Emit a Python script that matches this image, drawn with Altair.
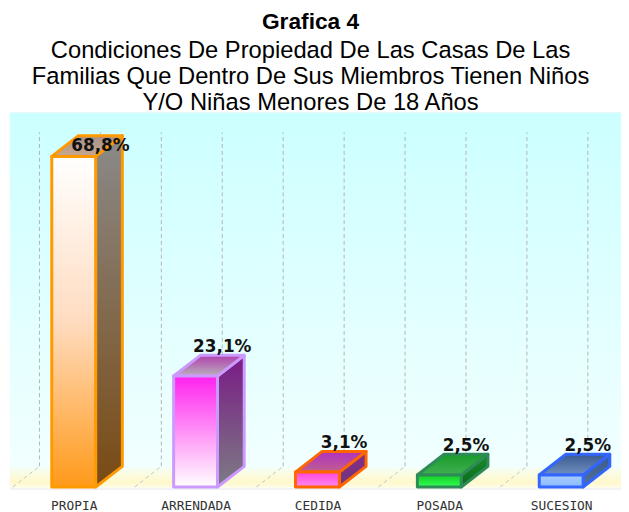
import json
import altair as alt
import pandas as pd

# ---------------- data ----------------
categories = ["PROPIA", "ARRENDADA", "CEDIDA", "POSADA", "SUCESION"]
values = [68.8, 23.1, 3.1, 2.5, 2.5]
value_labels = ["68,8%", "23,1%", "3,1%", "2,5%", "2,5%"]

title_text = "Grafica 4"
subtitle_lines = [
    "Condiciones De Propiedad De Las Casas De Las",
    "Familias Que Dentro De Sus Miembros Tienen Niños",
    "Y/O Niñas Menores De 18 Años",
]

# ---------------- styles ----------------
W, H = 618, 380
X_DOMAIN = [-0.523, 4.491]
Y_DOMAIN = [-0.3, 77.9]
HW = 0.18      # half width of the front face (x units)
DX = 0.219     # depth offset (x units)
DY = 4.3       # depth offset (y units)
GRID_TOP = 73.8
LABEL_OFF = 5.0
LABEL_CAP = 70.0

styles = {
    "PROPIA": dict(stroke="#ff9900",
                   front=[("#ffffff", 0), ("#ffdcc0", 0.5), ("#ff9a1a", 1)],
                   side=[("#8a8a8a", 0), ("#7a4a12", 1)],
                   top=[("#a89088", 0), ("#c8a890", 1)]),
    "ARRENDADA": dict(stroke="#cc99ff",
                      front=[("#ff22ee", 0), ("#ffffff", 1)],
                      side=[("#7a1a86", 0), ("#7c7c84", 1)],
                      top=[("#b040b0", 0), ("#b8b0b8", 1)]),
    "CEDIDA": dict(stroke="#ff6600",
                   front=[("#ff44dd", 0), ("#ff88ee", 1)],
                   side=[("#8a2a8a", 0), ("#6a3a7a", 1)],
                   top=[("#b030c0", 0), ("#c06090", 1)]),
    "POSADA": dict(stroke="#2e8b57",
                   front=[("#11cc22", 0), ("#33ff55", 1)],
                   side=[("#1a8a2a", 0), ("#0a6a1a", 1)],
                   top=[("#1a9a2a", 0), ("#40b050", 1)]),
    "SUCESION": dict(stroke="#3366ff",
                     front=[("#aaccff", 0), ("#88bbff", 1)],
                     side=[("#3a5a8a", 0), ("#5070a0", 1)],
                     top=[("#3a5a90", 0), ("#7090c0", 1)]),
}


def grad(stops):
    return alt.LinearGradient(
        gradient="linear",
        stops=[alt.GradientStop(color=c, offset=o) for c, o in stops],
        x1=0, x2=0, y1=0, y2=1,
    )


df = pd.DataFrame({
    "cat": categories,
    "idx": list(range(len(categories))),
    "val": values,
    "lab": value_labels,
})

label_expr = json.dumps(categories) + "[datum.value]"
x_scale = alt.Scale(domain=X_DOMAIN, nice=False, zero=False)
y_scale = alt.Scale(domain=Y_DOMAIN, nice=False, zero=False)
x_axis = alt.Axis(values=list(range(len(categories))), labelExpr=label_expr,
                  ticks=False, domain=False, grid=False, title=None,
                  labelFont="DejaVu Sans Mono", labelFontSize=13,
                  labelColor="#333333", labelPadding=11)


def X(f):
    return alt.X(f, type="quantitative", scale=x_scale, axis=x_axis)


def Y(f):
    return alt.Y(f, type="quantitative", scale=y_scale, axis=None)


one = pd.DataFrame({"a": [0]})

bg = alt.Chart(one).mark_rect(
    fill=grad([("#ccffff", 0), ("#f4ffff", 1)])
).encode(x=alt.value(0), x2=alt.value(W), y=alt.value(0), y2=alt.value(H))

floor = alt.Chart(one).mark_rect(
    fill=grad([("#f6fff4", 0), ("#fff8cc", 0.7), ("#fffbe0", 1)])
).encode(x=alt.value(0), x2=alt.value(W), y=alt.value(H - 21), y2=alt.value(H - 1))

grid_base = alt.Chart(alt.sequence(0, 10, as_="k")).transform_calculate(
    f="-0.5 + 0.5 * datum.k",
    xb=f"-0.5 + 0.5 * datum.k + {DX}",
    y0="0",
    yb=str(DY),
    yt=str(GRID_TOP),
)
grid_v = grid_base.mark_rule(stroke="#b4b4b4", strokeDash=[4, 3], strokeWidth=1).encode(
    x=X("xb:Q"), y=Y("yb:Q"), y2="yt:Q")
grid_d = grid_base.mark_rule(stroke="#c4c4c4", strokeDash=[4, 3], strokeWidth=1).encode(
    x=X("f:Q"), x2="xb:Q", y=Y("y0:Q"), y2="yb:Q")

layers = [bg, floor, grid_v, grid_d]

for name in categories:
    st = styles[name]
    base = alt.Chart(df).transform_filter(alt.datum.cat == name)
    two = base.transform_calculate(t0="0", t1="1").transform_fold(
        ["t0", "t1"], as_=["k", "t"]
    ).transform_calculate(tt="toNumber(datum.t)")
    side = two.transform_calculate(
        sx=f"datum.idx + {HW} + datum.tt * {DX}",
        sy=f"datum.tt * {DY}",
        sy2=f"datum.val + datum.tt * {DY}",
    ).mark_area(orient="vertical", fill=grad(st["side"]), stroke=st["stroke"],
                strokeWidth=3, strokeJoin="round", opacity=1).encode(
        x=X("sx:Q"), y=Y("sy:Q"), y2="sy2:Q")
    top = two.transform_calculate(
        ty=f"datum.val + datum.tt * {DY}",
        tx=f"datum.idx - {HW} + datum.tt * {DX}",
        tx2=f"datum.idx + {HW} + datum.tt * {DX}",
    ).mark_area(orient="horizontal", fill=grad(st["top"]), stroke=st["stroke"],
                strokeWidth=3, strokeJoin="round", opacity=1).encode(
        y=Y("ty:Q"), x=X("tx:Q"), x2="tx2:Q")
    front = base.transform_calculate(
        fx=f"datum.idx - {HW}", fx2=f"datum.idx + {HW}", z="0"
    ).mark_rect(fill=grad(st["front"]), stroke=st["stroke"], strokeWidth=3,
                strokeJoin="round").encode(
        x=X("fx:Q"), x2="fx2:Q", y=Y("z:Q"), y2="val:Q")
    layers += [side, top, front]

labels = alt.Chart(df).transform_calculate(
    lx=f"datum.idx + {DX}",
    ly=f"min(datum.val + {LABEL_OFF}, {LABEL_CAP})",
).mark_text(font="DejaVu Sans", fontWeight="bold", fontSize=17,
            baseline="alphabetic", align="center", color="#111111").encode(
    x=X("lx:Q"), y=Y("ly:Q"), text="lab:N")
layers.append(labels)

chart = alt.layer(*layers).properties(
    width=W, height=H,
    padding={"left": 2, "top": 0, "right": 0, "bottom": 0},
    title=alt.TitleParams(
        text=title_text, subtitle=subtitle_lines,
        font="Liberation Sans", fontSize=23, fontWeight="bold", color="#000000",
        subtitleFont="Liberation Sans", subtitleFontSize=24,
        subtitleLineHeight=26, subtitlePadding=6, subtitleColor="#000000",
        anchor="middle", offset=-2, dx=-5,
    ),
).configure_view(strokeWidth=0).configure(background="white")

chart.save("out.html", embed_options={"renderer": "svg", "actions": False})
